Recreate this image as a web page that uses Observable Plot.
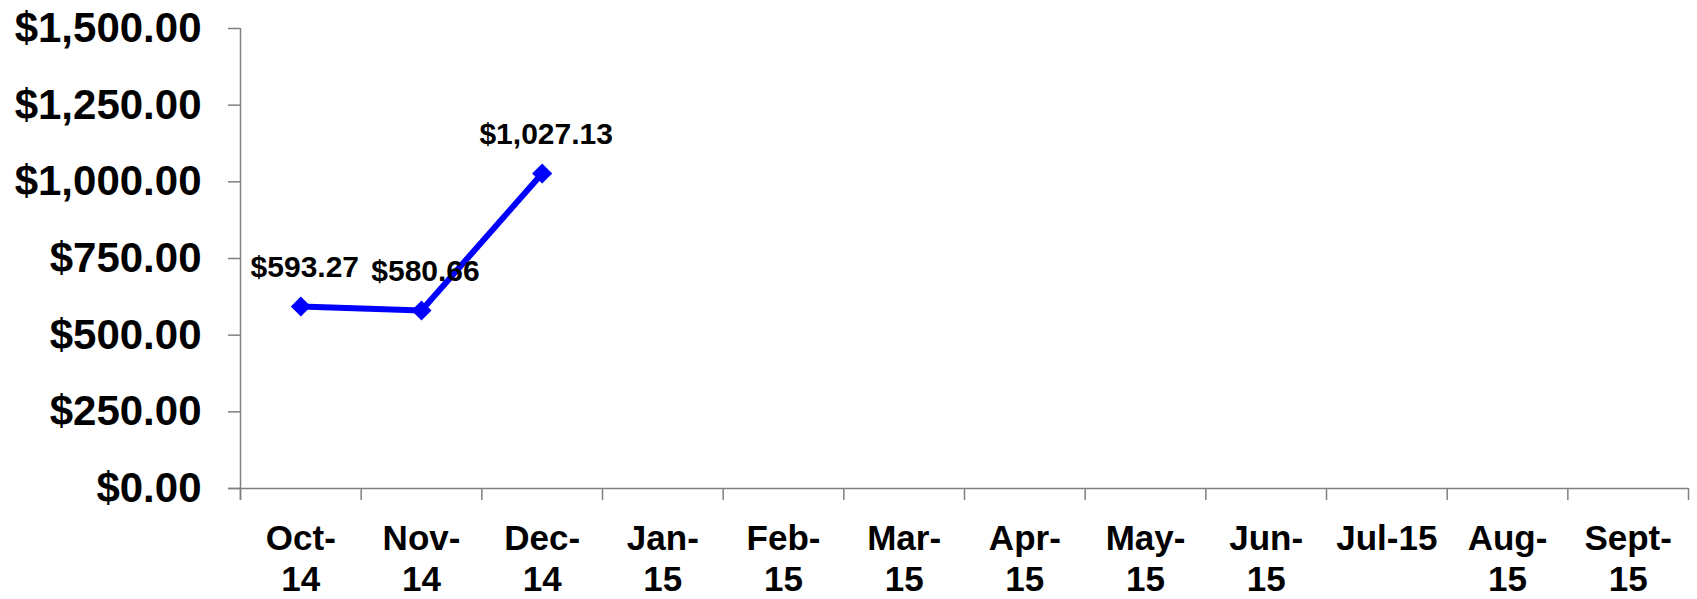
<!DOCTYPE html>
<html>
<head>
<meta charset="utf-8">
<script src="https://cdn.jsdelivr.net/npm/d3@7"></script>
<script src="https://cdn.jsdelivr.net/npm/@observablehq/plot@0.6"></script>
<style>
  html, body { margin: 0; padding: 0; background: #fff; }
  #chart svg { display: block; }
</style>
</head>
<body>
<div id="chart"></div>
<script>
const months = ["Oct-14","Nov-14","Dec-14","Jan-15","Feb-15","Mar-15","Apr-15","May-15","Jun-15","Jul-15","Aug-15","Sept-15"];
const monthLabels = ["Oct-\n14","Nov-\n14","Dec-\n14","Jan-\n15","Feb-\n15","Mar-\n15","Apr-\n15","May-\n15","Jun-\n15","Jul-15","Aug-\n15","Sept-\n15"];
const values = [593.27, 580.66, 1027.13];
const yTicks = [0, 250, 500, 750, 1000, 1250, 1500];

const data = values.map((v, i) => ({month: months[i], idx: i + 0.5, value: v}));
const boundaries = d3.range(months.length + 1);
const fmt = d => "$" + d3.format(",.2f")(d);
const font = "'Liberation Sans', Arial, sans-serif";

const chart = Plot.plot({
  width: 1697,
  height: 599,
  marginLeft: 240,
  marginRight: 9,
  marginTop: 28,
  marginBottom: 111,
  style: {fontFamily: font, background: "#fff"},
  x: {type: "linear", domain: [0, months.length], axis: null, label: null},
  y: {domain: [0, 1500], axis: null, label: null},
  marks: [
    Plot.axisY({ticks: yTicks, tickSize: 12, tickPadding: 27, tickFormat: fmt, label: null,
      fontSize: 42, fontWeight: "bold", stroke: "#808080", fill: "#000", strokeWidth: 1.5}),
    Plot.axisX({ticks: boundaries, tickSize: 12, tickFormat: () => "", label: null,
      stroke: "#808080", strokeWidth: 1.5}),
    Plot.ruleX([0], {stroke: "#808080", strokeWidth: 1.5, insetBottom: -12}),
    Plot.ruleY([0], {stroke: "#808080", strokeWidth: 1.5, insetLeft: -12}),
    Plot.text(monthLabels, {x: (d, i) => i + 0.5, y: () => 0, text: d => d,
      lineAnchor: "top", dy: 32, fontSize: 35, fontWeight: "bold", lineHeight: 1.17, fill: "#000"}),
    Plot.line(data, {x: "idx", y: "value", stroke: "#0000ff", strokeWidth: 6}),
    Plot.dot(data, {x: "idx", y: "value", symbol: "square", r: 8, rotate: 45, fill: "#0000ff", stroke: "none"}),
    Plot.text(data, {x: "idx", y: "value", text: d => fmt(d.value), dy: -39, dx: 4,
      fontSize: 30, fontWeight: "bold", fill: "#000"})
  ]
});
document.getElementById("chart").appendChild(chart);
</script>
</body>
</html>
